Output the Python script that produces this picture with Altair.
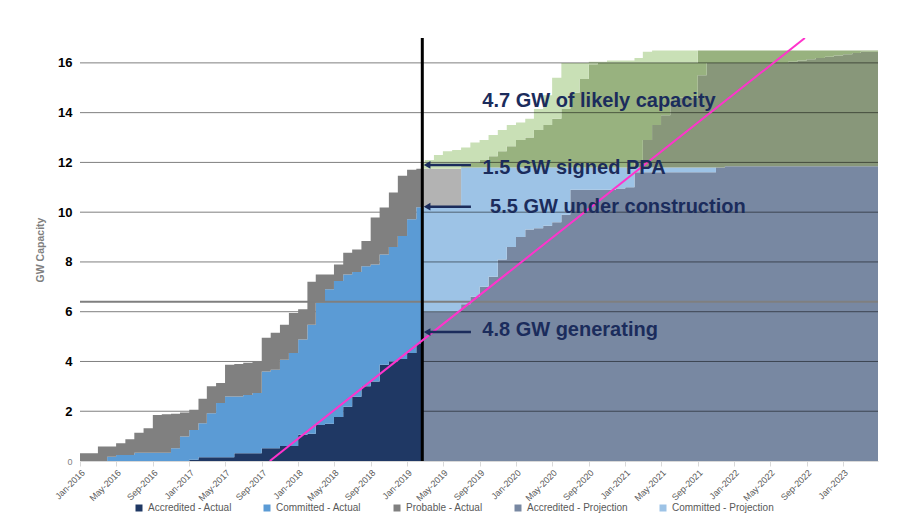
import altair as alt
import numpy as np
import pandas as pd

# ---------------- data ----------------
actual_months = [d.strftime("%Y-%m-%dT00:00:00") for d in pd.date_range("2016-01-01", periods=38, freq="MS")]
proj_months = [d.strftime("%Y-%m-%dT00:00:00") for d in pd.date_range("2019-03-01", periods=50, freq="MS")]
split_date = "2019-02-21T00:00:00"
end_date = "2023-04-28T00:00:00"

# cumulative tops (GW), Jan-2016 .. Feb-2019
accredited_actual = [0] * 12 + [0.05, 0.15, 0.15, 0.15, 0.15, 0.31, 0.31, 0.31, 0.51, 0.51, 0.6, 0.6,
                                1.05, 1.1, 1.45, 1.5, 1.77, 2.18, 2.58, 3.0, 3.2, 3.87, 4.0, 4.1, 4.34, 4.7]
committed_actual = [0, 0, 0, 0.17, 0.24, 0.24, 0.33, 0.33, 0.33, 0.33, 0.51, 0.98, 1.25, 1.52, 1.92, 2.33,
                    2.59, 2.59, 2.65, 2.73, 3.6, 3.67, 4.07, 4.34, 4.88, 5.48, 6.36, 6.9, 7.23, 7.5, 7.6,
                    7.83, 7.9, 8.3, 8.6, 9.04, 9.72, 10.2]
probable_actual = [0.31, 0.31, 0.58, 0.58, 0.71, 0.87, 1.14, 1.32, 1.85, 1.88, 1.9, 1.95, 2.06, 2.5, 3.0,
                   3.13, 3.87, 3.9, 3.95, 4.0, 4.95, 5.15, 5.48, 5.95, 6.1, 7.2, 7.5, 7.5, 7.9, 8.37, 8.5,
                   8.84, 9.79, 10.19, 10.79, 11.46, 11.71, 11.75]

# cumulative tops (GW), split date, then Mar-2019 .. Apr-2023
accredited_proj = ([6.0] + [6.0, 6.0, 6.0, 6.0]
                   + [6.3, 6.6, 7.0, 7.4, 8.1, 8.6, 9.0, 9.3, 9.35, 9.45, 9.6, 9.9]
                   + [10.9, 10.9, 10.9, 10.9, 10.9, 10.95, 11.0]
                   + [11.6] * 9 + [11.8] + [11.85] * 17)
committed_proj = [10.2] * 5 + [11.8] * 29 + [11.85] * 17
probable_proj = [11.75] * 5 + [11.8] * 29 + [11.85] * 17
likely_dark = ([0] * 24 + [12.1, 12.9, 13.5, 13.9, 14.5, 14.6, 14.6, 15.5] + [16.0] * 9
               + [16.05, 16.1, 16.15, 16.2, 16.25, 16.3, 16.35, 16.4, 16.45, 16.45])
likely_mid = ([0] * 5 + [11.9, 12.0, 12.1, 12.25, 12.45, 12.65, 12.9, 13.0, 13.3, 13.5, 13.75, 14.15,
                         14.8, 15.35, 15.95] + [16.0] * 11 + [16.5] * 20)
likely_light = ([12.0, 12.1, 12.3, 12.45, 12.5]
                + [12.6, 12.8, 12.9, 13.1, 13.3, 13.5, 13.6, 13.75, 14.15, 14.7, 15.4, 16.0, 16.0, 16.0,
                   16.05, 16.05, 16.1, 16.1, 16.1, 16.2, 16.45] + [16.5] * 25)

legend_names = ["Accredited - Actual", "Committed - Actual", "Probable - Actual",
                "Accredited - Projection", "Committed - Projection"]
legend_colors = ["#1F3864", "#5B9BD5", "#808080", "#7888A2", "#9DC3E6"]

trend_dates = ["2017-09-28T00:00:00", "2022-08-26T00:00:00"]
trend_values = [0, 17.0]

grid_values = [2, 4, 6, 8, 10, 12, 14, 16]
extra_line_value = [6.4]

note_texts = ["4.7 GW of likely capacity", "1.5 GW signed PPA", "5.5 GW under construction", "4.8 GW generating"]
note_dates = ["2019-09-10T00:00:00", "2019-09-11T00:00:00", "2019-10-06T00:00:00", "2019-09-10T00:00:00"]
note_values = [14.47, 11.78, 10.21, 5.27]

arrow_from = ["2019-03-09T00:00:00"] * 3
arrow_to = ["2019-08-03T00:00:00"] * 3
arrow_values = [11.9, 10.22, 5.18]

# ---------------- tables ----------------
a_dates = actual_months + [split_date]
p_dates = [split_date] + proj_months + [end_date]


def ext(v):
    return list(v) + [v[-1]]


aa = np.array(ext(accredited_actual), float)
ca = np.array(ext(committed_actual), float)
pa = np.array(ext(probable_actual), float)
ap = np.array(ext(accredited_proj), float)
cp = np.array(ext(committed_proj), float)
pp = np.maximum(cp, np.array(ext(probable_proj), float))
dk = np.maximum(pp, np.array(ext(likely_dark), float))
md = np.maximum(dk, np.array(ext(likely_mid), float))
lt = np.maximum(md, np.array(ext(likely_light), float))


def band(dates, name, lo, hi):
    return pd.DataFrame({"date": dates, "series": name, "lo": lo, "hi": hi})


actual_df = pd.concat([
    band(a_dates, "Accredited - Actual", np.zeros_like(aa), aa),
    band(a_dates, "Committed - Actual", aa, ca),
    band(a_dates, "Probable - Actual", ca, pa),
])
proj_df = pd.concat([
    band(p_dates, "Accredited - Projection", np.zeros_like(ap), ap),
    band(p_dates, "Committed - Projection", ap, cp),
])
extra_bands = [
    (band(p_dates, "Probable - Projection", cp, pp), "#B3B3B3"),
    (band(p_dates, "Likely 1", pp, dk), "#88977A"),
    (band(p_dates, "Likely 2", dk, md), "#98B27F"),
    (band(p_dates, "Likely 3", md, lt), "#C9E0B6"),
]

# ---------------- chart ----------------
FONT = "Liberation Sans"
NAVY_TXT = "#1B2C5C"
W, H = 798, 423

x_scale = alt.Scale(domain=[alt.DateTime(year=2016, month=1, date=1),
                            alt.DateTime(year=2023, month=4, date=28)], nice=False)
y_scale = alt.Scale(domain=[0, 17], nice=False)

x_axis = alt.Axis(
    values=[alt.DateTime(year=2016 + (i * 4) // 12, month=(i * 4) % 12 + 1, date=1) for i in range(22)],
    format="%b-%Y", labelAngle=-45, labelAlign="right", labelBaseline="top",
    labelFontSize=9, labelColor="#595959", labelFont=FONT, labelPadding=2,
    tickColor="#D9D9D9", tickSize=5, domainColor="#D9D9D9", grid=False, title=None,
)
y_axis = alt.Axis(
    values=[0, 2, 4, 6, 8, 10, 12, 14, 16], grid=False, domain=False, ticks=False,
    labelFont=FONT, labelPadding=8,
    labelFontSize={"condition": {"test": "datum.value == 0", "value": 9}, "value": 13},
    labelFontWeight={"condition": {"test": "datum.value == 0", "value": "normal"}, "value": "bold"},
    labelColor={"condition": {"test": "datum.value == 0", "value": "#7F7F7F"}, "value": "#000000"},
    title="GW Capacity", titleFont=FONT, titleFontSize=10.5, titleColor="#7F7F7F",
    titleFontWeight="bold", titlePadding=12,
)
legend = alt.Legend(
    orient="none", legendX=54, legendY=465, direction="horizontal", columns=5, title=None,
    symbolType="square", symbolSize=49, symbolStrokeWidth=0, labelFont=FONT, labelFontSize=10,
    labelColor="#595959", columnPadding=30, labelOffset=4, padding=0,
)
color = alt.Color("series:N", scale=alt.Scale(domain=legend_names, range=legend_colors), legend=legend)


def X(field):
    return alt.X(field, scale=x_scale, axis=x_axis)


def Y(field):
    return alt.Y(field, scale=y_scale, axis=y_axis)


proj_layer = alt.Chart(proj_df).mark_area(interpolate="step-after", opacity=1).encode(
    x=X("date:T"), y=Y("hi:Q"), y2="lo:Q", color=color,
)
extra_layers = [
    alt.Chart(df).mark_area(interpolate="step-after", opacity=1, color=col).encode(
        x=X("date:T"), y=Y("hi:Q"), y2="lo:Q",
    )
    for df, col in extra_bands
]
grid_layer = alt.Chart(pd.DataFrame({"v": grid_values})).mark_rule(
    color="#000000", opacity=0.5, strokeWidth=1).encode(
    y=Y("v:Q"), x=alt.value(0), x2=alt.value(W))
actual_layer = alt.Chart(actual_df).mark_area(interpolate="step-after", opacity=1).encode(
    x=X("date:T"), y=Y("hi:Q"), y2="lo:Q", color=color,
)
extra_line = alt.Chart(pd.DataFrame({"v": extra_line_value})).mark_rule(
    color="#7F7F7F", strokeWidth=2).encode(
    y=Y("v:Q"), x=alt.value(0), x2=alt.value(W))
split_line = alt.Chart(pd.DataFrame({"d": [split_date], "lo": [0], "hi": [17]})).mark_rule(
    color="#000000", strokeWidth=3).encode(
    x=X("d:T"), y=Y("lo:Q"), y2="hi:Q")
trend = alt.Chart(pd.DataFrame({"d": trend_dates, "v": trend_values})).mark_line(
    color="#FF33CC", strokeWidth=2, clip=True).encode(
    x=X("d:T"), y=Y("v:Q"))
arrows_df = pd.DataFrame({"a": arrow_from, "b": arrow_to, "v": arrow_values})
arrow_shafts = alt.Chart(arrows_df).mark_rule(color=NAVY_TXT, strokeWidth=2.5).encode(
    x=X("a:T"), x2="b:T", y=Y("v:Q"))
arrow_heads = alt.Chart(arrows_df).mark_point(
    shape="triangle-left", filled=True, size=60, color=NAVY_TXT, opacity=1).encode(
    x=X("a:T"), y=Y("v:Q"))
notes = alt.Chart(pd.DataFrame({"t": note_texts, "d": note_dates, "v": note_values})).mark_text(
    align="left", baseline="middle", font=FONT, fontSize=20, fontWeight="bold", color=NAVY_TXT).encode(
    x=X("d:T"), y=Y("v:Q"), text="t:N")

chart = alt.layer(
    proj_layer, *extra_layers, grid_layer, actual_layer, extra_line, split_line, trend,
    arrow_shafts, arrow_heads, notes,
).properties(
    width=W, height=H,
    autosize=alt.AutoSizeParams(type="none"),
    padding={"left": 72, "top": 30, "right": 16, "bottom": 58},
).configure(font=FONT).configure_view(stroke=None)

chart.save("out.html", embed_options={"renderer": "svg", "actions": False})
